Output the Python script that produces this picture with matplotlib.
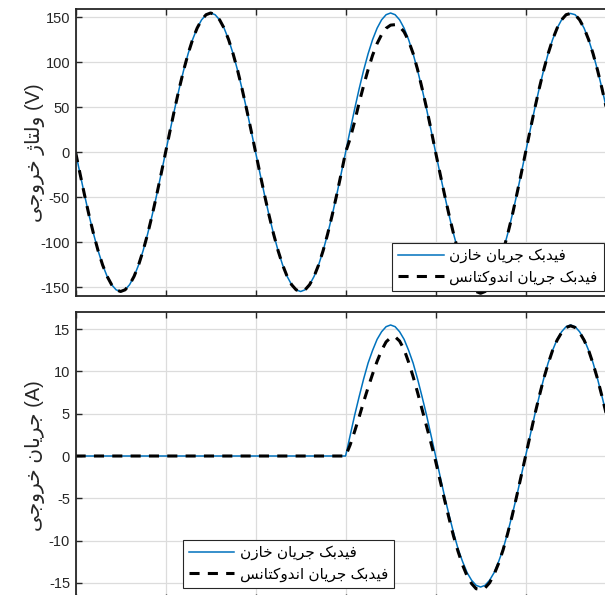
import numpy as np
import matplotlib
matplotlib.use("Agg")
import matplotlib.pyplot as plt

plt.rcParams['font.family'] = ['Liberation Sans', 'DejaVu Sans']
plt.rcParams['axes.unicode_minus'] = False

# time axis (s), one sample every 0.5 ms
t = np.arange(121) * 0.0005

# output voltage, capacitor-current feedback
v_cap = [0, -24.2, -47.9, -70.4, -91.1, -109.6, -125.4, -138.1, -147.4, -153.1,
         -155, -153.1, -147.4, -138.1, -125.4, -109.6, -91.1, -70.4, -47.9, -24.2,
         0, 24.2, 47.9, 70.4, 91.1, 109.6, 125.4, 138.1, 147.4, 153.1,
         155, 153.1, 147.4, 138.1, 125.4, 109.6, 91.1, 70.4, 47.9, 24.2,
         0, -24.2, -47.9, -70.4, -91.1, -109.6, -125.4, -138.1, -147.4, -153.1,
         -155, -153.1, -147.4, -138.1, -125.4, -109.6, -91.1, -70.4, -47.9, -24.2,
         0, 24.2, 47.9, 70.4, 91.1, 109.6, 125.4, 138.1, 147.4, 153.1,
         155, 153.1, 147.4, 138.1, 125.4, 109.6, 91.1, 70.4, 47.9, 24.2,
         0, -24.2, -47.9, -70.4, -91.1, -109.6, -125.4, -138.1, -147.4, -153.1,
         -155, -153.1, -147.4, -138.1, -125.4, -109.6, -91.1, -70.4, -47.9, -24.2,
         0, 24.2, 47.9, 70.4, 91.1, 109.6, 125.4, 138.1, 147.4, 153.1,
         154.5, 153.1, 147.4, 138.1, 125.4, 109.6, 91.1, 70.4, 47.9, 24.2, 0]

# output voltage, inductor-current feedback (same as above before the load step)
v_ind_after = [0, 15, 34, 55, 74, 92, 108, 121, 131, 138,
               141.5, 142, 140, 134, 124, 110, 92, 71, 49, 25,
               0, -24, -47.5, -70, -91, -110, -126, -139, -149, -155,
               -157, -155, -149, -139, -126, -110, -91.5, -71, -48, -24.5,
               0, 24.2, 47.9, 70.4, 91.1, 109.6, 125.4, 138.1, 147.4, 153.1,
               154.5, 153.1, 147.4, 138.1, 125.4, 109.6, 91.1, 70.4, 47.9, 24.2, 0]
v_ind = v_cap[:60] + v_ind_after

# output current
i_cap_after = [0, 2.4, 4.8, 7.0, 9.1, 11.0, 12.5, 13.8, 14.7, 15.3,
               15.5, 15.3, 14.7, 13.8, 12.5, 11.0, 9.1, 7.0, 4.8, 2.4,
               0, -2.4, -4.8, -7.0, -9.1, -11.0, -12.5, -13.8, -14.7, -15.3,
               -15.5, -15.3, -14.7, -13.8, -12.5, -11.0, -9.1, -7.0, -4.8, -2.4,
               0, 2.4, 4.8, 7.0, 9.1, 11.0, 12.5, 13.8, 14.7, 15.3,
               15.5, 15.3, 14.7, 13.8, 12.5, 11.0, 9.1, 7.0, 4.8, 2.4, 0]
i_ind_after = [0, 1.3, 2.9, 4.6, 6.4, 8.1, 9.7, 11.2, 12.5, 13.5,
               14.0, 14.1, 13.6, 12.6, 11.1, 9.4, 7.5, 5.5, 3.5, 1.5,
               -0.6, -2.9, -5.2, -7.4, -9.5, -11.3, -12.9, -14.2, -15.1, -15.7,
               -15.8, -15.6, -15.0, -14.0, -12.7, -11.1, -9.2, -7.1, -4.8, -2.4,
               0, 2.4, 4.8, 7.0, 9.1, 10.9, 12.5, 13.7, 14.6, 15.2,
               15.4, 15.2, 14.6, 13.7, 12.5, 10.9, 9.1, 7.0, 4.8, 2.4, 0]
i_cap = [0.0] * 60 + i_cap_after
i_ind = [0.0] * 60 + i_ind_after

label_cap = "فیدبک جریان خازن"
label_ind = "فیدبک جریان اندوکتانس"
ylabel_v = "ولتاژ خروجی"
ylabel_i = "جریان خروجی"

# matplotlib has no arabic shaping, so pick the presentation forms by hand
# (isolated, final, initial, medial)
FORMS = {
    'ا': ('\uFE8D', '\uFE8E', None, None),
    'ب': ('\uFE8F', '\uFE90', '\uFE91', '\uFE92'),
    'ت': ('\uFE95', '\uFE96', '\uFE97', '\uFE98'),
    'ج': ('\uFE9D', '\uFE9E', '\uFE9F', '\uFEA0'),
    'خ': ('\uFEA5', '\uFEA6', '\uFEA7', '\uFEA8'),
    'د': ('\uFEA9', '\uFEAA', None, None),
    'ر': ('\uFEAD', '\uFEAE', None, None),
    'ز': ('\uFEAF', '\uFEB0', None, None),
    'ژ': ('\uFB8A', '\uFB8B', None, None),
    'س': ('\uFEB1', '\uFEB2', '\uFEB3', '\uFEB4'),
    'ف': ('\uFED1', '\uFED2', '\uFED3', '\uFED4'),
    'ک': ('\uFB8E', '\uFB8F', '\uFB90', '\uFB91'),
    'ل': ('\uFEDD', '\uFEDE', '\uFEDF', '\uFEE0'),
    'ن': ('\uFEE5', '\uFEE6', '\uFEE7', '\uFEE8'),
    'و': ('\uFEED', '\uFEEE', None, None),
    'ی': ('\uFBFC', '\uFBFD', '\uFBFE', '\uFBFF'),
}


def shape(text):
    out = []
    for i, c in enumerate(text):
        if c not in FORMS:
            out.append(c)
            continue
        prev = text[i - 1] if i > 0 else None
        nxt = text[i + 1] if i + 1 < len(text) else None
        join_prev = prev in FORMS and FORMS[prev][2] is not None
        join_next = nxt in FORMS and FORMS[c][2] is not None
        isol, fin, ini, med = FORMS[c]
        if join_prev and join_next:
            out.append(med)
        elif join_prev:
            out.append(fin)
        elif join_next:
            out.append(ini)
        else:
            out.append(isol)
    return ''.join(reversed(out))


blue = '#0072BD'
dark = '#262626'

fig = plt.figure(figsize=(6.05, 5.95), dpi=100)
W, H = 605, 595
ax1 = fig.add_axes([75.6 / W, (H - 296) / H, 540 / W, 287.5 / H])
ax2 = fig.add_axes([75.6 / W, (H - 599.7) / H, 540 / W, 287.4 / H])

for ax, yc, yd, lim, ticks, ylab, unit, leg_xy in [
        (ax1, v_cap, v_ind, 160, [-150, -100, -50, 0, 50, 100, 150], ylabel_v, '(V)', (0.586, 0.017)),
        (ax2, i_cap, i_ind, 17, [-15, -10, -5, 0, 5, 10, 15], ylabel_i, '(A)', (0.198, 0.041))]:
    ax.plot(t, yc, color=blue, lw=1.1, label=shape(label_cap))
    ax.plot(t, yd, color='black', lw=2.2, linestyle=(0, (3.3, 2.7)), label=shape(label_ind))
    ax.set_xlim(0, 0.06)
    ax.set_ylim(-lim, lim)
    ax.set_xticks([0, 0.01, 0.02, 0.03, 0.04, 0.05, 0.06])
    ax.set_yticks(ticks)
    ax.tick_params(direction='in', top=True, right=True, length=4, width=1, pad=4,
                   color=dark, labelcolor=dark, labelsize=10.5, labelbottom=False)
    ax.grid(True, color='#dcdcdc', lw=0.9)
    ax.set_axisbelow(True)
    for s in ax.spines.values():
        s.set_color(dark)
        s.set_linewidth(1.3)
    ax.set_ylabel(shape(ylab) + ' ' + unit, fontsize=14.5, color=dark)
    ax.yaxis.set_label_coords(-0.056, 0.5)
    leg = ax.legend(loc='lower left', bbox_to_anchor=leg_xy, borderaxespad=0,
                    fontsize=11, fancybox=False, framealpha=1, edgecolor=dark,
                    handlelength=3.0, handletextpad=0.35, borderpad=0.4, labelspacing=0.45)
    leg.get_frame().set_linewidth(0.8)

fig.savefig('out.png', dpi=100)
